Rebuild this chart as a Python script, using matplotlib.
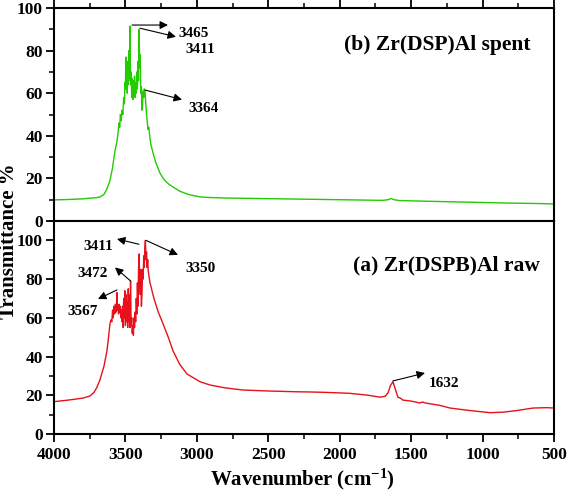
import matplotlib
matplotlib.use("Agg")
import matplotlib.pyplot as plt
from matplotlib.ticker import MultipleLocator

plt.rcParams['font.family'] = ['Liberation Serif', 'DejaVu Serif']
plt.rcParams['font.weight'] = 'bold'
plt.rcParams['mathtext.fontset'] = 'custom'
plt.rcParams['mathtext.rm'] = 'Liberation Serif:bold'
plt.rcParams['mathtext.bf'] = 'Liberation Serif:bold'
plt.rcParams['mathtext.default'] = 'bf'

# (b) Zr(DSP)Al spent -- green trace
spent_wn = [4000, 3900, 3800, 3750, 3700, 3678, 3650, 3630, 3608, 3590, 3573, 3560,
            3552, 3545, 3540, 3535, 3530, 3524, 3518, 3512, 3507, 3503, 3500, 3497,
            3494, 3490, 3487, 3484, 3480, 3476, 3472, 3468, 3464, 3460, 3456, 3452,
            3448, 3444, 3440, 3436, 3432, 3428, 3424, 3420, 3416, 3412, 3408, 3404,
            3400, 3396, 3392, 3388, 3384, 3380, 3376, 3372, 3368, 3363, 3358, 3352,
            3346, 3342, 3336, 3330, 3322, 3314, 3307, 3290, 3270, 3258, 3230, 3200,
            3167, 3120, 3060, 2978, 2900, 2800, 2600, 2400, 2200, 2000, 1800, 1700,
            1660, 1640, 1620, 1580, 1400, 1200, 1000, 800, 600, 500]
spent_t = [9.9, 10.1, 10.4, 10.7, 11.0, 11.3, 12.5, 15.0, 19.0, 25.0, 33.0, 37.0,
           41.0, 46.0, 44.0, 50.0, 47.0, 52.0, 50.0, 58.0, 55.0, 65.0, 62.0, 77.0,
           63.0, 75.0, 60.0, 72.0, 64.0, 80.0, 66.0, 91.5, 64.0, 70.0, 58.0, 67.0,
           57.0, 66.0, 60.0, 68.0, 58.0, 65.0, 60.0, 70.0, 62.0, 75.0, 66.0, 90.0,
           72.0, 78.0, 60.0, 63.0, 52.0, 55.0, 61.0, 58.0, 62.0, 61.0, 56.0, 50.0,
           46.0, 43.0, 44.0, 40.0, 36.0, 34.0, 32.0, 28.0, 24.5, 22.5, 19.5, 17.5,
           16.0, 14.0, 12.5, 11.3, 11.0, 10.8, 10.6, 10.4, 10.2, 10.0, 9.8, 9.7,
           10.0, 10.6, 10.0, 9.6, 9.3, 9.0, 8.7, 8.4, 8.2, 8.0]

# (a) Zr(DSPB)Al raw -- red trace
raw_wn = [4000, 3900, 3800, 3748, 3720, 3700, 3678, 3650, 3629, 3615, 3608, 3600,
          3595, 3590, 3585, 3580, 3575, 3570, 3565, 3561, 3559, 3556, 3552, 3548,
          3544, 3540, 3536, 3532, 3528, 3524, 3520, 3516, 3512, 3508, 3504, 3500,
          3496, 3492, 3488, 3484, 3480, 3476, 3472, 3468, 3464, 3460, 3456, 3452,
          3448, 3444, 3440, 3436, 3432, 3428, 3424, 3420, 3416, 3412, 3408, 3404,
          3400, 3396, 3392, 3388, 3384, 3380, 3376, 3372, 3368, 3364, 3360, 3356,
          3352, 3348, 3344, 3340, 3336, 3332, 3328, 3320, 3314, 3300, 3270, 3237,
          3200, 3167, 3120, 3069, 2978, 2908, 2800, 2677, 2500, 2300, 2208, 2100,
          1928, 1800, 1718, 1680, 1660, 1645, 1627, 1610, 1592, 1575, 1557, 1500,
          1440, 1420, 1400, 1300, 1228, 1100, 948, 850, 750, 647, 550, 500]
raw_t = [16.7, 17.5, 18.5, 19.6, 21.5, 24.0, 28.0, 35.0, 43.0, 52.0, 57.0, 59.0,
         58.0, 64.0, 60.0, 66.0, 62.0, 67.0, 63.0, 68.0, 73.0, 64.0, 66.0, 62.0,
         67.0, 63.0, 66.0, 60.0, 64.0, 58.0, 66.0, 55.0, 70.0, 60.0, 74.0, 56.0,
         72.0, 58.0, 68.0, 55.0, 75.0, 58.0, 72.0, 55.0, 79.0, 56.0, 60.0, 52.0,
         56.0, 51.0, 60.0, 55.0, 63.0, 58.0, 70.0, 62.0, 78.0, 66.0, 85.0, 93.0,
         80.0, 72.0, 85.0, 66.0, 72.0, 85.0, 80.0, 92.0, 86.0, 96.0, 100.0, 90.0,
         94.0, 86.0, 90.0, 84.0, 82.0, 80.0, 78.0, 76.0, 74.0, 70.0, 63.0, 57.0,
         50.0, 43.0, 36.0, 31.0, 27.0, 25.3, 23.8, 22.7, 22.2, 21.8, 21.7, 21.5,
         21.0, 20.0, 19.0, 19.5, 21.5, 25.0, 27.0, 23.0, 19.0, 18.5, 17.5, 17.0,
         16.0, 16.5, 16.0, 14.8, 13.4, 12.2, 11.0, 11.3, 12.2, 13.4, 13.6, 13.4]

# peak labels: (text, arrow tail x, y, arrow head x, y, text x, y, ha)
spent_notes = [("3465", 3454, 92.0, 3202, 92.0, 3132, 87.8, "left"),
               ("3411", 3398, 90.5, 3146, 86.5, 3083, 80.7, "left"),
               ("3364", 3363, 61.5, 3104, 57.0, 3062, 53.0, "left")]
raw_notes = [("3411", 3405, 98.0, 3559, 100.7, 3692, 97.0, "center"),
             ("3350", 3356, 100.0, 3132, 92.5, 3083, 85.7, "left"),
             ("3472", 3463, 79.0, 3573, 86.0, 3727, 83.0, "center"),
             ("3567", 3559, 74.4, 3692, 69.7, 3797, 63.5, "center"),
             ("1632", 1627, 27.4, 1403, 31.5, 1375, 26.3, "left")]


def style_axis(ax, ymax):
    ax.set_xlim(4000, 500)
    ax.set_ylim(0, ymax)
    ax.xaxis.set_major_locator(MultipleLocator(500))
    ax.xaxis.set_minor_locator(MultipleLocator(250))
    ax.yaxis.set_major_locator(MultipleLocator(20))
    ax.yaxis.set_minor_locator(MultipleLocator(10))
    ax.tick_params(axis='y', which='major', direction='out', length=6, width=1.3,
                   labelsize=12.5, right=False, pad=2)
    ax.tick_params(axis='y', which='minor', direction='out', length=3.5, width=1.1,
                   right=False)
    ax.tick_params(axis='x', which='major', length=6, width=1.3, labelsize=12.5)
    ax.tick_params(axis='x', which='minor', length=3.5, width=1.1)
    for s in ax.spines.values():
        s.set_linewidth(1.5)
    for lab in ax.get_xticklabels() + ax.get_yticklabels():
        lab.set_fontweight('bold')


def add_notes(ax, notes):
    for txt, x0, y0, x1, y1, tx, ty, ha in notes:
        ax.annotate("", xy=(x1, y1), xytext=(x0, y0),
                    arrowprops=dict(arrowstyle="-|>", color="black", lw=0.8,
                                    mutation_scale=12, shrinkA=0, shrinkB=0))
        ax.text(tx, ty, txt, ha=ha, va="center", fontsize=11, fontweight="bold")


fig = plt.figure(figsize=(5.67, 4.97), dpi=100)
ax_top = fig.add_axes([0.0952, 0.5553, 0.8818, 0.4286])
ax_bot = fig.add_axes([0.0952, 0.1268, 0.8818, 0.4285])

ax_top.plot(spent_wn, spent_t, color="#22cc00", lw=1.0)
ax_bot.plot(raw_wn, raw_t, color="#e8101a", lw=1.0)

style_axis(ax_top, 100)
style_axis(ax_bot, 110)

ax_top.tick_params(axis='x', which='both', top=True, bottom=True, labelbottom=False,
                   direction='out')
ax_bot.tick_params(axis='x', which='both', top=False, direction='out')

add_notes(ax_top, spent_notes)
add_notes(ax_bot, raw_notes)

ax_top.text(0.766, 0.826, "(b) Zr(DSP)Al spent", transform=ax_top.transAxes,
            ha="center", va="center", fontsize=15.5, fontweight="bold")
ax_bot.text(0.784, 0.789, "(a) Zr(DSPB)Al raw", transform=ax_bot.transAxes,
            ha="center", va="center", fontsize=15.5, fontweight="bold")

fig.text(0.015, 0.515, "Transmittance %", rotation=90, ha="center", va="center",
         fontsize=15, fontweight="bold")
fig.text(0.533, 0.036, "Wavenumber (cm$^{-1}$)", ha="center", va="center",
         fontsize=15, fontweight="bold")

fig.savefig("out.png", dpi=100)
